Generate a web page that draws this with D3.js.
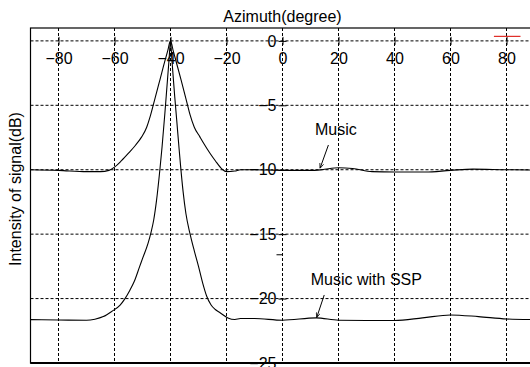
<!DOCTYPE html>
<html>
<head>
<meta charset="utf-8">
<script src="https://cdn.jsdelivr.net/npm/d3@7"></script>
<style>
  body { margin:0; background:#fff; }
  svg { display:block; font-family:"Liberation Sans", Arial, sans-serif; }
  .grid line { stroke:#000; stroke-width:1; stroke-dasharray:3,2; }
</style>
</head>
<body>
<svg></svg>
<script>
// data: azimuth (degree) vs intensity (dB)
var musicAz = [-90,-80,-70,-65,-62,-60,-57.5,-55,-52.5,-50.3,-48.5,-47.3,-46,-43.75,-42,-41,-40,
               -39,-38,-36.25,-34,-33,-31.5,-29.5,-28,-25.9,-24,-21.6,-20,-17,-15,-10,0,10,14,20,25,32,40,51,60,68,80,90];
var musicDb = [-10.0,-10.05,-10.15,-10.15,-10.05,-9.8,-9.3,-8.72,-8.1,-7.45,-6.7,-5.9,-4.85,-3.0,-1.55,-0.78,0,
               -0.8,-1.6,-3.0,-4.9,-5.75,-6.7,-7.45,-8.0,-8.72,-9.3,-9.95,-10.15,-10.1,-10.0,-10.0,-10.05,-10.05,-10.0,-9.85,-9.9,-10.15,-10.18,-10.18,-10.05,-9.95,-10.0,-10.02];

var sspAz = [-90,-80,-70,-67,-64,-61,-58,-56.25,-54.5,-53,-51,-50,-48,-47,-46,-45,-43.75,-43,-42,-41.5,-41,-40.5,-40,
             -39.5,-39,-38.5,-37.8,-37,-36.4,-35.5,-34.5,-33,-31.5,-30,-28.5,-27.1,-25.5,-24,-22.3,-19.5,-17,-15,-10,0,12,20,30,40,50,60,70,80,90];
var sspDb = [-21.63,-21.66,-21.68,-21.6,-21.4,-21.0,-20.5,-20.0,-19.35,-18.7,-17.5,-16.9,-15.7,-14.9,-13.9,-12.4,-9.9,-8.2,-5.6,-4.2,-2.8,-1.4,0,
             -1.45,-2.9,-4.3,-6.1,-8.2,-9.7,-11.7,-13.4,-15.0,-16.3,-17.5,-18.8,-19.8,-20.5,-20.85,-21.1,-21.5,-21.62,-21.55,-21.55,-21.68,-21.5,-21.68,-21.7,-21.7,-21.5,-21.27,-21.4,-21.58,-21.63];

var xTicks = [-80,-60,-40,-20,0,20,40,60,80];
var yTicks = [0,-5,-10,-15,-20,-25];
var yMinor = [-16.6];

var labels = ["Music","Music with SSP"];
var labelAt = [[11.6,-7.3],[10.1,-18.95]];
var arrowFrom = [[16.4,-8.08],[14.9,-19.72]];
var arrowTo = [[13.4,-9.89],[12.2,-21.48]];

var redMark = [[75.5,0.35],[85,0.35]];

var drawChart = function()
{
  var screen = {width:530, height:367};

  var svg = d3.select('svg')
              .attr('width',screen.width)
              .attr('height',screen.height);

  var xScale = d3.scaleLinear()
                 .domain([-90,90])
                 .range([30.5,534.5]);
  var yScale = d3.scaleLinear()
                 .domain([-25,1])
                 .range([363,28]);

  svg.append('rect')
     .attr('width',screen.width).attr('height',screen.height)
     .attr('fill','#fff');

//grid
  var grid = svg.append('g').classed('grid',true);
  grid.selectAll('line.v')
      .data(xTicks).enter().append('line')
      .attr('x1',function(d){return xScale(d)})
      .attr('x2',function(d){return xScale(d)})
      .attr('y1',yScale(1)).attr('y2',yScale(-25));
  grid.selectAll('line.h')
      .data(yTicks).enter().append('line')
      .attr('x1',xScale(-90)).attr('x2',xScale(90))
      .attr('y1',function(d){return yScale(d)})
      .attr('y2',function(d){return yScale(d)});

//frame
  svg.append('rect')
     .attr('x',xScale(-90)).attr('y',yScale(1))
     .attr('width',xScale(90)-xScale(-90))
     .attr('height',yScale(-25)-yScale(1))
     .attr('fill','none').attr('stroke','#000').attr('stroke-width',1.2);
  svg.append('line')
     .attr('x1',xScale(-90)).attr('x2',xScale(90))
     .attr('y1',yScale(-25)).attr('y2',yScale(-25))
     .attr('stroke','#000').attr('stroke-width',2);

//axes through the origin
  var xAxis = d3.axisBottom(xScale).tickValues(xTicks).tickSizeInner(4).tickSizeOuter(0).tickPadding(8);
  var xA = svg.append('g').classed('xAxis',true)
              .attr('transform','translate(0,'+yScale(0)+')')
              .call(xAxis);
  xA.select('.domain').remove();
  xA.selectAll('.tick line').attr('y1',-4).attr('stroke','#000');
  xA.selectAll('.tick text').attr('font-size',16).attr('fill','#000')
    .attr('font-family','"Liberation Sans", Arial, sans-serif');

  var yAxis = d3.axisLeft(yScale).tickValues(yTicks).tickSizeInner(4).tickSizeOuter(0).tickPadding(2);
  var yA = svg.append('g').classed('yAxis',true)
              .attr('transform','translate('+xScale(0)+',0)')
              .call(yAxis);
  yA.select('.domain').remove();
  yA.selectAll('.tick line').attr('x1',4).attr('stroke','#000');
  yA.selectAll('.tick text').attr('font-size',16).attr('fill','#000')
    .attr('font-family','"Liberation Sans", Arial, sans-serif');
  yA.selectAll('line.minor')
    .data(yMinor).enter().append('line')
    .attr('x1',-6).attr('x2',0)
    .attr('y1',function(d){return yScale(d)})
    .attr('y2',function(d){return yScale(d)})
    .attr('stroke','#000');

//titles
  svg.append('text')
     .attr('x',xScale(0)).attr('y',22)
     .attr('text-anchor','middle').attr('font-size',16)
     .text('Azimuth(degree)');
  svg.append('text')
     .attr('transform','translate(21,189) rotate(-90)')
     .attr('text-anchor','middle').attr('font-size',16)
     .text('Intensity of signal(dB)');

//curves
  var drawLine = d3.line()
                   .x(function(d){return xScale(d[0])})
                   .y(function(d){return yScale(d[1])})
                   .curve(d3.curveMonotoneX);
  var music = musicAz.map(function(a,i){return [a,musicDb[i]]});
  var ssp = sspAz.map(function(a,i){return [a,sspDb[i]]});
  [music,ssp].forEach(function(s){
    svg.append('path')
       .datum(s)
       .attr('class','line')
       .attr('d',drawLine)
       .attr('fill','none')
       .attr('stroke','#000')
       .attr('stroke-width',1.1);
  });

//red legend stub
  svg.append('line')
     .attr('x1',xScale(redMark[0][0])).attr('x2',xScale(redMark[1][0]))
     .attr('y1',yScale(redMark[0][1])).attr('y2',yScale(redMark[1][1]))
     .attr('stroke','#e0302a').attr('stroke-width',1.2);

//annotations
  svg.append('defs').append('marker')
     .attr('id','head').attr('viewBox','0 0 10 10')
     .attr('refX',10).attr('refY',5)
     .attr('markerWidth',5).attr('markerHeight',5)
     .attr('orient','auto')
     .append('path').attr('d','M0,1 L10,5 L0,9')
     .attr('fill','none').attr('stroke','#000').attr('stroke-width',1.5);

  labels.forEach(function(t,i){
    svg.append('text')
       .attr('x',xScale(labelAt[i][0])).attr('y',yScale(labelAt[i][1]))
       .attr('font-size',16).text(t);
    svg.append('line')
       .attr('x1',xScale(arrowFrom[i][0])).attr('y1',yScale(arrowFrom[i][1]))
       .attr('x2',xScale(arrowTo[i][0])).attr('y2',yScale(arrowTo[i][1]))
       .attr('stroke','#000').attr('stroke-width',1)
       .attr('marker-end','url(#head)');
  });
}

drawChart();
</script>
</body>
</html>
